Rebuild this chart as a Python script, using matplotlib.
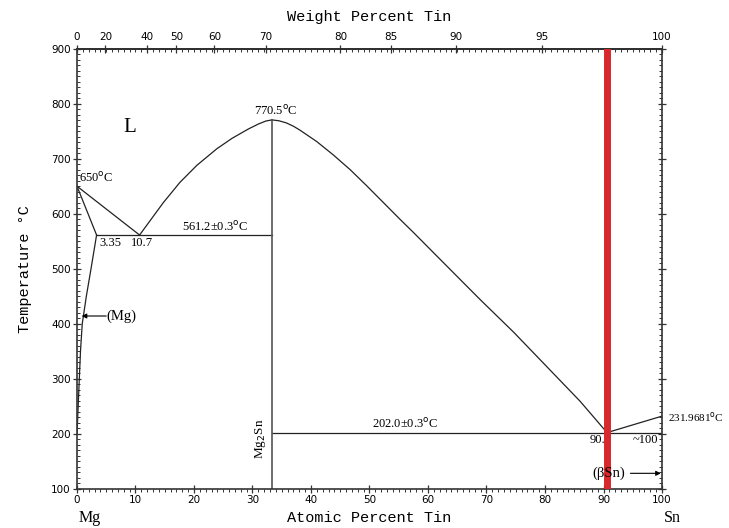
"""
Mg-Sn phase diagram with a marked composition line.
"""

import matplotlib
matplotlib.use('Agg')
import matplotlib.pyplot as plt
from matplotlib.ticker import MultipleLocator, FixedLocator
import numpy as np

# Atomic weights used for the weight-percent scale.
M_MG = 24.305
M_SN = 118.71

# Phase boundaries: atomic percent Sn and temperature (degC).
liq_mg_x = [0, 10.7]
liq_mg_t = [650, 561.2]
sol_mg_x = [0, 3.35]
sol_mg_t = [650, 561.2]
solvus_x = [3.35, 2.4, 1.6, 0.9, 0.6, 0.4, 0.2, 0.05, 0]
solvus_t = [561.2, 500, 450, 400, 350, 300, 250, 210, 200]

liq_left_x = [10.7, 14.75, 17.6, 20.5, 23.9, 26.5, 29.3, 31.0, 32.3, 33.33]
liq_left_t = [561.2, 620, 657, 688, 718, 737, 754, 763, 768.5, 770.5]
liq_right_x = [33.33, 34.5, 35.8, 37.0, 38.1, 41.0, 43.8, 46.7, 49.5, 52.4,
               55.2, 57.5, 63.2, 68.9, 74.6, 80.3, 86.0, 90.6]
liq_right_t = [770.5, 769, 765, 759, 752, 731, 707, 680, 651, 620,
               590, 566, 505, 444, 385, 322, 259, 202]
liq_sn_x = [90.6, 100]
liq_sn_t = [202, 231.9681]

eut1_x = [3.35, 33.33]
eut1_t = [561.2, 561.2]
eut2_x = [33.33, 100]
eut2_t = [202, 202]
mg2sn_x = [33.33, 33.33]
mg2sn_t = [100, 770.5]

marker_x = 90.6

# Tick labels for the top (weight percent) scale.
wt_ticks = [0, 20, 40, 50, 60, 70, 80, 85, 90, 95, 100]


def at_to_wt(a):
    """ Atomic percent Sn to weight percent Sn. """
    a = np.asarray(a, dtype=float)
    with np.errstate(divide='ignore', invalid='ignore'):
        return 100 * a * M_SN / (a * M_SN + (100 - a) * M_MG)


def wt_to_at(w):
    """ Weight percent Sn to atomic percent Sn. """
    w = np.asarray(w, dtype=float)
    with np.errstate(divide='ignore', invalid='ignore'):
        return 100 * (w / M_SN) / (w / M_SN + (100 - w) / M_MG)


fig = plt.figure(figsize=(7.29, 5.28), dpi=100)
ax = fig.add_axes([0.1056, 0.0744, 0.8025, 0.8334])

# Phase boundaries.
lw = 0.9
for xs, ts in [(liq_mg_x, liq_mg_t), (sol_mg_x, sol_mg_t),
               (solvus_x, solvus_t), (liq_left_x, liq_left_t),
               (liq_right_x, liq_right_t), (liq_sn_x, liq_sn_t),
               (eut1_x, eut1_t), (eut2_x, eut2_t)]:
    ax.plot(xs, ts, color='#222222', lw=lw, solid_joinstyle='round')
ax.plot(mg2sn_x, mg2sn_t, color='#555555', lw=1.2)

# Red composition marker.
ax.axvline(marker_x, color='#d8282c', lw=5, zorder=5)

ax.set_xlim(0, 100)
ax.set_ylim(100, 900)

# Ticks.
ax.xaxis.set_major_locator(MultipleLocator(10))
ax.xaxis.set_minor_locator(MultipleLocator(1))
ax.yaxis.set_major_locator(MultipleLocator(100))
ax.yaxis.set_minor_locator(MultipleLocator(10))
ax.tick_params(which='both', right=True, top=False, labelsize=7.5,
               pad=1.5, color='#333333')
ax.tick_params(which='major', direction='inout', length=6, width=0.9)
ax.tick_params(which='minor', direction='out', length=2.5, width=0.7)
ax.tick_params(axis='y', which='minor', direction='in')
for s in ax.spines.values():
    s.set_linewidth(1.2)
    s.set_color('#333333')

# Weight percent scale on top.
secax = ax.secondary_xaxis('top', functions=(at_to_wt, wt_to_at))
secax.xaxis.set_major_locator(FixedLocator(wt_ticks))
secax.xaxis.set_minor_locator(FixedLocator(at_to_wt(np.arange(0, 101, 1))))
secax.tick_params(which='major', direction='inout', length=6, width=0.9,
                  labelsize=7.5, pad=1.5, color='#333333')
secax.tick_params(which='minor', direction='in', length=2.5, width=0.7,
                  color='#333333')
secax.spines['top'].set_linewidth(1.2)
secax.set_xlabel('Weight Percent Tin', fontfamily='Liberation Mono',
                 fontsize=11, labelpad=8)

ax.set_xlabel('Atomic Percent Tin', fontfamily='Liberation Mono',
              fontsize=11, labelpad=4)
ax.set_ylabel('Temperature \u00b0C', fontfamily='Liberation Mono',
              fontsize=11, labelpad=14)

# Labels on the diagram.
serif = 'Liberation Serif'
deg = '$^{\\mathrm{o}}$C'
fs = 9
ax.text(9.1, 756, 'L', fontfamily=serif, fontsize=15, ha='center', va='center')
ax.text(0.3, 652, '650' + deg, fontfamily=serif, fontsize=fs, ha='left', va='bottom')
ax.text(3.8, 546, '3.35', fontfamily=serif, fontsize=fs, ha='left', va='center')
ax.text(9.2, 546, '10.7', fontfamily=serif, fontsize=fs, ha='left', va='center')
ax.text(23.6, 564, '561.2\u00b10.3' + deg, fontfamily=serif, fontsize=fs,
        ha='center', va='bottom')
ax.text(34.0, 774, '770.5' + deg, fontfamily=serif, fontsize=fs,
        ha='center', va='bottom')
ax.text(56.1, 205, '202.0\u00b10.3' + deg, fontfamily=serif, fontsize=fs,
        ha='center', va='bottom')
ax.text(101.0, 230, '231.9681' + deg, fontfamily=serif, fontsize=8,
        ha='left', va='center', clip_on=False)
ax.text(90.3, 189, '90.', fontfamily=serif, fontsize=fs, ha='right', va='center')
ax.text(95.0, 189, '~100', fontfamily=serif, fontsize=fs, ha='left', va='center')
ax.text(31.3, 190, 'Mg$_2$Sn', fontfamily=serif, fontsize=9.5, rotation=90,
        ha='center', va='center')

ax.text(5.1, 414, '(Mg)', fontfamily=serif, fontsize=10.5, ha='left', va='center')
ax.annotate('', xy=(0.8, 414), xytext=(5.0, 414),
            arrowprops=dict(arrowstyle='-|>', lw=0.8, color='black',
                            mutation_scale=7, shrinkA=0, shrinkB=0))
ax.text(88.1, 128, '(\u03b2Sn)', fontfamily=serif, fontsize=10.5, ha='left',
        va='center', zorder=6)
ax.annotate('', xy=(99.8, 128), xytext=(94.6, 128),
            arrowprops=dict(arrowstyle='-|>', lw=0.8, color='black',
                            mutation_scale=7, shrinkA=0, shrinkB=0))

ax.text(0.2, 46, 'Mg', fontfamily=serif, fontsize=11.5, ha='left', va='center',
        clip_on=False)
ax.text(101.8, 46, 'Sn', fontfamily=serif, fontsize=11.5, ha='center',
        va='center', clip_on=False)

fig.savefig('out.png', dpi=100)
